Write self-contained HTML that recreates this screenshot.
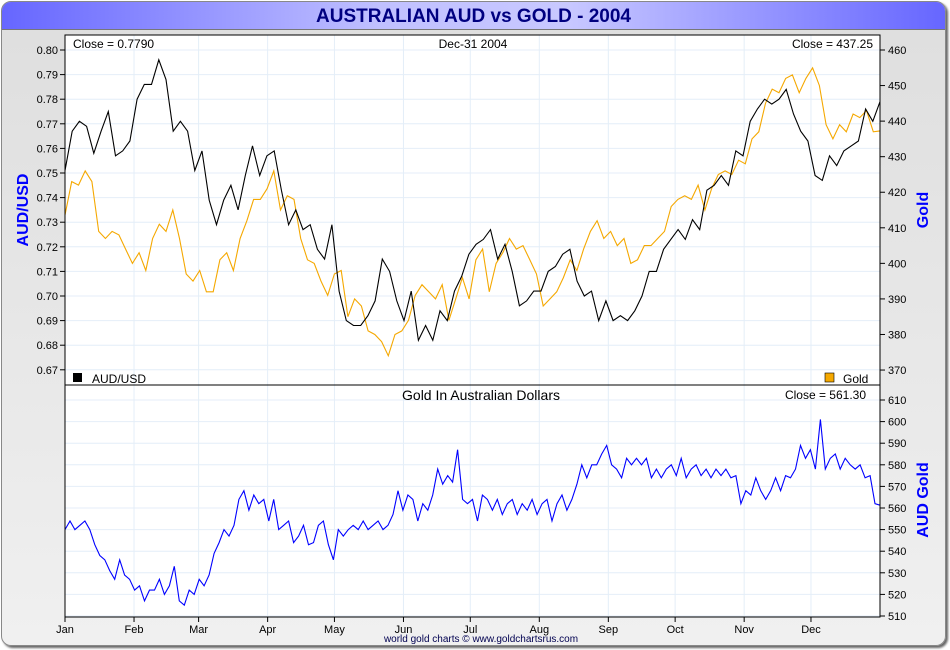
<!DOCTYPE html>
<html><head><meta charset="utf-8"><style>
body{margin:0;width:950px;height:650px;background:#fff;overflow:hidden;font-family:"Liberation Sans",sans-serif}
#frame{position:absolute;left:1px;top:1px;width:943px;height:643px;border:1px solid #888;border-radius:10px;background:linear-gradient(#dedede,#f0f0f0);box-shadow:2px 2px 2px #666;overflow:hidden}
#title{position:absolute;left:0;top:0;width:943px;height:27px;border-bottom:1px solid #777;background:linear-gradient(90deg,#6666ff,#c0c0ff 40%,#c8c8ff 60%,#6666ff);text-align:center;font-weight:bold;font-size:19px;line-height:29px;color:#000080}
svg{position:absolute;left:0;top:0}
</style></head><body>
<div id="frame"><div id="title">AUSTRALIAN AUD vs GOLD - 2004</div></div>
<svg id="c" width="950" height="650"></svg>
<script>
const months=["Jan","Feb","Mar","Apr","May","Jun","Jul","Aug","Sep","Oct","Nov","Dec"];
const monthStart=[0,31,60,91,121,152,182,213,244,274,305,335];
const audTicks=[0.80,0.79,0.78,0.77,0.76,0.75,0.74,0.73,0.72,0.71,0.70,0.69,0.68,0.67];
const goldTicks=[460,450,440,430,420,410,400,390,380,370];
const audGoldTicks=[610,600,590,580,570,560,550,540,530,520,510];
const aud=[0.751,0.767,0.771,0.769,0.758,0.767,0.775,0.757,0.759,0.763,0.780,0.786,0.786,0.796,0.788,0.767,0.771,0.767,0.751,0.759,0.739,0.729,0.739,0.745,0.735,0.749,0.761,0.749,0.757,0.759,0.743,0.729,0.735,0.727,0.729,0.719,0.715,0.729,0.702,0.690,0.688,0.688,0.692,0.698,0.715,0.710,0.698,0.690,0.702,0.682,0.688,0.682,0.694,0.690,0.702,0.708,0.717,0.721,0.723,0.727,0.715,0.721,0.710,0.696,0.698,0.702,0.702,0.710,0.712,0.717,0.719,0.706,0.700,0.702,0.690,0.698,0.690,0.692,0.690,0.694,0.700,0.710,0.710,0.719,0.723,0.727,0.723,0.731,0.727,0.743,0.745,0.749,0.745,0.759,0.757,0.771,0.776,0.780,0.778,0.780,0.784,0.774,0.767,0.763,0.749,0.747,0.757,0.753,0.759,0.761,0.763,0.776,0.771,0.779];
const gold=[413.6,423,422,426,423,409,407,409,408,404,400,403,398,407,411,409,415,407,397,395,398,392,392,401,403,398,407,412,418,418,421,426,415,419,418,407,401,400,395,391,397,398,385,390,388,381,380,378,374,380,381,384,391,394,392,390,394,384,390,396,390,401,404,392,400,403,407,404,405,401,397,388,390,392,396,401,398,404,409,412,407,409,405,407,400,401,405,405,407,409,416,418,419,418,422,415,421,425,426,425,429,428,435,437,445,449,448,452,453,448,452,455,450,439,435,439,437,442,441,443,437,437.25];
const audGold=[550,554,550,552,554,550,543,538,536,531,527,536,529,527,522,524,517,522,522,527,520,524,533,517,515,522,520,527,524,529,539,544,550,547,552,564,568,559,566,562,564,554,564,550,552,554,544,547,552,543,544,552,554,543,536,550,547,550,552,550,554,550,552,554,550,552,557,568,559,566,564,554,562,559,566,578,571,575,572,587,564,562,564,554,566,564,559,564,557,562,564,557,562,559,564,557,562,564,554,562,566,559,564,571,580,574,580,580,585,589,580,578,574,583,580,583,580,583,574,578,574,578,580,575,583,574,578,580,575,578,574,578,575,578,574,575,562,568,566,574,568,564,568,574,568,575,574,578,589,583,587,578,601,578,583,585,578,583,580,578,580,574,575,562,561.3];

const NS="http://www.w3.org/2000/svg",svg=document.getElementById('c');
function mk(t,a,p){const e=document.createElementNS(NS,t);for(const k in a)e.setAttribute(k,a[k]);(p||svg).appendChild(e);return e}
const L=65,R=880,T1=35,B1=385,B2=617;
const xDay=d=>L+d/366*(R-L);
const yAud=v=>50+(0.80-v)/0.01*24.6;
const yGold=v=>50+(460-v)*3.556;
const yAG=v=>400+(610-v)*2.16;
mk('rect',{x:L,y:T1,width:R-L,height:B2-T1,fill:'#fff'});
// grid
const grid=mk('g',{stroke:'#e4eef8','stroke-width':1});


monthStart.forEach(d=>{mk('line',{x1:xDay(d),x2:xDay(d),y1:T1,y2:B2},grid)});
audTicks.forEach(v=>mk('line',{x1:L,x2:R,y1:yAud(v),y2:yAud(v)},grid));
audGoldTicks.forEach(v=>mk('line',{x1:L,x2:R,y1:yAG(v),y2:yAG(v)},grid));
function txt(x,y,s,o){const e=mk('text',Object.assign({x:x,y:y,'font-size':12,fill:'#000'},o||{}));e.textContent=s;return e}
// axes ticks
audTicks.forEach(v=>{mk('line',{x1:L-5,x2:L,y1:yAud(v),y2:yAud(v),stroke:'#000'});const t=txt(L-7,yAud(v)+4,v.toFixed(2),{'text-anchor':'end','font-size':11});});
goldTicks.forEach(v=>{mk('line',{x1:R,x2:R+5,y1:yGold(v),y2:yGold(v),stroke:'#000'});const t=txt(R+8,yGold(v)+4,v,{'font-size':11});});
audGoldTicks.forEach(v=>{mk('line',{x1:R,x2:R+5,y1:yAG(v),y2:yAG(v),stroke:'#000'});const t=txt(R+8,yAG(v)+4,v,{'font-size':11});});
months.forEach((m,i)=>{const x=xDay(monthStart[i]);mk('line',{x1:x,x2:x,y1:B2,y2:B2+5,stroke:'#000'});const t=txt(x,B2+16,m,{'text-anchor':'middle','font-size':11});});
function line(arr,yf,col,name){const n=arr.length;const pts=arr.map((v,i)=>(L+i/(n-1)*(R-L)).toFixed(1)+','+yf(v).toFixed(1)).join(' ');const p=mk('polyline',{points:pts,fill:'none',stroke:col,'stroke-width':1.1});}
line(gold,yGold,'#f5a800','gold-line');
line(aud,yAud,'#000','aud-usd-line');
line(audGold,yAG,'#0000ff','aud-gold-line');
mk('rect',{x:L,y:T1,width:R-L,height:B2-T1,fill:'none',stroke:'#000'});
mk('line',{x1:L,x2:R,y1:B1,y2:B1,stroke:'#000'});
txt(73,48,'Close = 0.7790');
txt(473,48,'Dec-31  2004',{'text-anchor':'middle'});
txt(873,48,'Close = 437.25',{'text-anchor':'end'});
mk('rect',{x:73,y:373,width:9,height:9,fill:'#000'});
txt(92,383,'AUD/USD');
mk('rect',{x:825,y:373,width:9,height:9,fill:'#f5a800',stroke:'#000','stroke-width':0.6});
txt(843,383,'Gold');
txt(481,400,'Gold In Australian Dollars',{'text-anchor':'middle','font-size':14});
txt(866,399,'Close = 561.30',{'text-anchor':'end'});
txt(481,642,'world gold charts © www.goldchartsrus.com',{'text-anchor':'middle','font-size':10,fill:'#000050'});
txt(28,210,'AUD/USD',{'text-anchor':'middle','font-size':16,'font-weight':'bold',fill:'#0000ff',transform:'rotate(-90 28 210)'});
txt(928,210,'Gold',{'text-anchor':'middle','font-size':16,'font-weight':'bold',fill:'#0000ff',transform:'rotate(-90 928 210)'});
txt(928,500,'AUD Gold',{'text-anchor':'middle','font-size':16,'font-weight':'bold',fill:'#0000ff',transform:'rotate(-90 928 500)'});
</script>
</body></html>
